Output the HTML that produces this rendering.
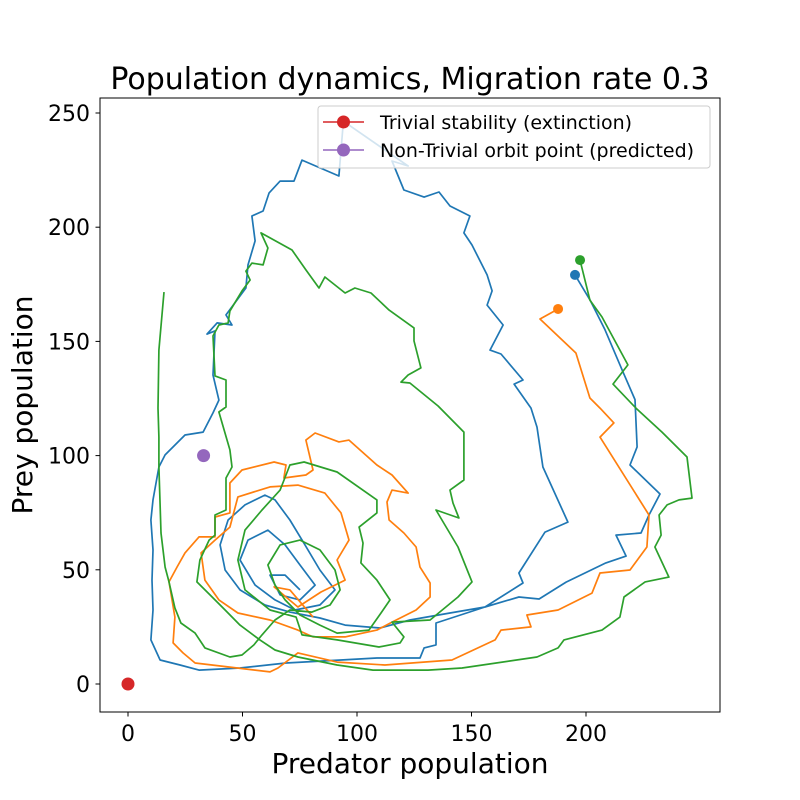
<!DOCTYPE html>
<html><head><meta charset="utf-8"><style>
html,body{margin:0;padding:0;background:#fff;}
svg{display:block;font-family:"DejaVu Sans","Liberation Sans",sans-serif;}
</style></head><body>
<svg id="chart" width="800" height="800" viewBox="0 0 800 800" xmlns="http://www.w3.org/2000/svg">
<rect width="800" height="800" fill="#fff"/>
<text x="410" y="89" font-size="30" text-anchor="middle" fill="#000">Population dynamics, Migration rate 0.3</text>
<g id="plot"></g>
<rect x="100" y="98" width="620" height="614" fill="none" stroke="#000" stroke-width="1"/>
<g id="xticks"></g>
<g id="yticks"></g>
<text x="410" y="773" font-size="28" text-anchor="middle">Predator population</text>
<text transform="translate(32,405) rotate(-90)" font-size="28" text-anchor="middle">Prey population</text>
<g>
<rect x="318" y="106" width="392" height="62" rx="3" fill="#fff" fill-opacity="0.8" stroke="#ccc"/>
<g>
<line x1="323" y1="122" x2="364" y2="122" stroke="#d62728" stroke-width="1.5"/>
<circle cx="343.5" cy="122" r="6.5" fill="#d62728"/>
<text x="380" y="129" font-size="19">Trivial stability (extinction)</text>
</g>
<g>
<line x1="323" y1="150" x2="364" y2="150" stroke="#9467bd" stroke-width="1.5"/>
<circle cx="343.5" cy="150" r="6.5" fill="#9467bd"/>
<text x="380" y="157" font-size="19">Non-Trivial orbit point (predicted)</text>
</g>
</g>
</svg>
<script>
const xTicks = [0, 50, 100, 150, 200];
const yTicks = [0, 50, 100, 150, 200, 250];
const trivialPoint = [0, 0];
const orbitPoint = [33, 100];
const blueX = [195.2,201.7,208.3,215.7,221.4,222.3,219.2,232.3,227.5,224.0,213.1,217.5,208.7,191.3,179.5,170.7,155.9,134.5,134.5,129.3,127.5,108.7,93.0,69.0,48.9,31.0,22.7,14.0,10.0,10.9,10.5,10.9,10.0,10.9,13.5,16.2,24.9,32.8,37.1,39.7,37.1,38.0,34.5,38.9,45.4,42.8,51.5,52.4,55.5,54.1,59.0,61.6,66.4,72.5,76.0,92.1,93.9,96.5,122.3,115.3,120.5,129.3,135.8,140.6,149.3,146.7,150.2,156.8,159.0,156.8,163.8,158.1,162.9,172.5,168.6,176.0,178.6,181.2,192.1,182.1,170.7,172.5,155.9,140.6,123.1,110.0,94.8,83.8,70.7,59.8,48.9,42.4,40.2,43.7,51.1,59.8,64.2,70.7,77.3,83.8,90.4,83.8,72.9,64.2,55.5,48.9,52.4,61.1,68.6,75.1,81.7,75.1,66.4,62.0,68.6,75.1];
const blueY = [179.1,168.2,155.1,137.6,124.5,103.8,95.9,83.2,74.0,66.1,65.2,56.0,53.0,44.6,37.2,38.1,33.7,26.7,17.1,15.8,11.4,11.4,10.5,9.2,7.0,6.1,8.3,10.5,19.3,32.4,45.5,58.7,71.8,80.6,95.0,100.3,109.0,110.3,118.7,124.3,135.3,154.6,153.2,158.1,157.2,161.6,173.4,183.5,194.0,204.9,207.1,215.0,220.2,220.2,229.4,222.4,244.3,244.7,226.8,229.0,216.3,213.2,215.4,209.3,204.9,197.5,192.2,179.1,172.1,165.9,157.2,146.2,144.5,133.1,131.3,120.8,112.5,95.0,70.9,66.5,48.6,44.2,33.7,31.1,28.0,24.5,25.8,28.9,31.5,34.6,41.2,49.9,60.9,71.8,78.4,82.7,80.6,71.8,60.9,49.9,41.2,34.6,32.4,36.8,43.3,54.3,63.0,67.4,60.9,52.1,43.3,36.8,39.0,47.7,47.7,41.2];
const orangeX = [187.8,179.9,195.6,201.7,206.1,212.2,206.1,227.5,226.6,219.2,206.1,202.6,187.8,174.2,176.0,162.9,160.3,141.5,112.2,91.3,74.2,65.5,62.0,44.5,29.3,24.0,19.7,20.5,17.9,21.4,24.9,31.0,38.0,38.0,44.5,44.5,49.8,63.8,69.0,68.1,77.7,80.8,77.7,81.7,92.1,96.5,108.7,115.3,122.3,115.3,113.1,114.0,120.5,125.8,127.5,131.9,131.9,125.8,115.3,108.7,94.8,80.8,74.2,62.0,48.0,39.7,33.6,31.9,38.0,44.5,48.0,62.0,74.2,86.0,93.0,96.5,91.3,94.8,84.3,74.2,69.0,63.8,70.7,80.8];
const orangeY = [164.2,159.8,144.9,125.2,120.8,114.3,108.1,74.0,60.0,49.9,48.6,39.8,32.4,30.2,25.0,23.6,19.3,10.5,8.3,9.6,13.6,7.0,5.3,7.4,9.2,13.6,18.0,29.3,44.7,51.2,57.4,64.4,64.4,73.1,74.9,88.0,93.7,97.2,95.9,90.2,91.5,93.7,106.8,109.9,106.0,106.8,95.9,91.5,83.6,84.9,79.7,71.8,66.1,60.0,51.2,44.2,38.1,32.4,27.1,23.6,20.6,20.6,23.6,28.0,31.1,36.8,45.5,57.4,63.0,68.7,81.9,86.3,87.1,83.6,74.9,63.0,54.3,45.5,40.3,33.7,38.1,42.5,41.2,29.3];
const greenX = [197.4,201.7,207.0,218.3,211.8,221.8,233.2,244.1,246.3,240.6,235.4,231.9,232.8,230.1,236.2,225.8,216.6,214.8,207.0,190.4,187.8,178.6,145.9,131.0,107.0,91.3,74.2,64.2,57.6,48.9,42.4,35.8,30.1,31.4,35.4,38.0,38.0,42.8,42.8,45.4,44.5,39.7,42.8,42.8,38.0,37.1,39.7,43.7,44.5,49.8,53.3,51.5,54.1,59.0,61.1,58.1,71.6,77.7,83.4,86.0,94.8,99.1,106.1,114.0,124.9,124.9,127.9,122.3,119.2,123.1,135.4,146.7,146.7,140.6,141.9,144.5,134.5,144.1,150.2,144.1,131.9,115.3,120.5,118.8,109.6,91.3,76.0,73.4,62.0,51.1,48.0,51.1,58.5,66.4,70.7,76.9,91.3,108.7,108.7,100.9,102.6,101.7,108.7,114.4,110.5,105.2,91.3,83.8,75.1,68.6,64.2,61.1,66.4,75.1,83.8,90.4,92.6,88.2,80.3,70.7,64.2,58.5,55.0,49.8,44.5,33.6,29.3,23.1,20.5,17.9,16.2,14.4,13.5,13.5,13.1,13.5,15.7];
const greenY = [185.6,168.1,160.7,139.7,131.3,120.8,110.3,99.4,81.4,80.6,78.4,74.0,65.2,60.0,46.8,44.7,38.1,29.3,23.6,19.3,15.8,11.8,7.0,6.1,6.1,8.3,11.8,14.9,19.3,25.8,32.4,39.0,44.7,54.3,63.0,65.2,74.0,76.2,90.2,95.0,102.5,119.1,121.3,133.1,134.9,152.4,157.2,158.1,163.3,172.1,176.9,180.8,184.3,183.5,190.9,197.5,190.0,181.3,173.4,178.2,171.2,173.4,171.2,163.7,155.9,150.2,138.4,135.3,132.2,131.8,121.7,110.3,89.3,84.9,79.2,72.7,76.2,60.0,44.7,38.1,28.0,27.1,20.6,18.0,16.2,19.3,21.5,29.3,32.4,41.2,54.3,67.4,76.2,84.9,95.9,97.2,92.8,80.6,74.9,68.7,61.7,53.0,45.5,36.8,31.1,23.6,22.3,25.8,30.2,36.8,43.3,52.1,60.9,63.0,58.7,49.9,41.2,34.6,31.5,32.4,28.0,21.5,17.1,12.7,11.8,15.8,22.3,26.7,33.3,44.7,51.2,66.1,95.0,108.1,120.8,146.2,171.6];

const NS = 'http://www.w3.org/2000/svg';
function X(v){ return 128 + v * 2.29; }
function Y(v){ return 684 - v * 2.284; }
function mk(tag, attrs, parent){
  const e = document.createElementNS(NS, tag);
  for (const k in attrs) e.setAttribute(k, attrs[k]);
  parent.appendChild(e);
  return e;
}
const plot = document.getElementById('plot');
const series = [
  {name:'blue', xs:blueX, ys:blueY, color:'#1f77b4'},
  {name:'orange', xs:orangeX, ys:orangeY, color:'#ff7f0e'},
  {name:'green', xs:greenX, ys:greenY, color:'#2ca02c'}
];
series.forEach(s => {
  const pts = s.xs.map((x, i) => X(x).toFixed(1) + ',' + Y(s.ys[i]).toFixed(1)).join(' ');
  const pl = mk('polyline', {points: pts, fill:'none', stroke:s.color, 'stroke-width':1.7, 'stroke-linejoin':'round'}, plot);
  
  
});
series.forEach(s => {
  const c = mk('circle', {cx: X(s.xs[0]), cy: Y(s.ys[0]), r: 5, fill: s.color}, plot);
  
  
});
const tr = mk('circle', {cx: X(trivialPoint[0]), cy: Y(trivialPoint[1]), r: 6.5, fill:'#d62728'}, plot);


const op = mk('circle', {cx: X(orbitPoint[0]), cy: Y(orbitPoint[1]), r: 6.5, fill:'#9467bd'}, plot);



const xg = document.getElementById('xticks');
xTicks.forEach(t => {
  const l = mk('line', {x1:X(t), x2:X(t), y1:712, y2:716.5, stroke:'#000', 'stroke-width':1}, xg);
  
  
  const tx = mk('text', {x:X(t), y:741, 'font-size':22, 'text-anchor':'middle'}, xg);
  tx.textContent = t;
  
  
});
const yg = document.getElementById('yticks');
yTicks.forEach(t => {
  const l = mk('line', {x1:95.5, x2:100, y1:Y(t), y2:Y(t), stroke:'#000', 'stroke-width':1}, yg);
  
  
  const tx = mk('text', {x:90, y:Y(t) + 8, 'font-size':22, 'text-anchor':'end'}, yg);
  tx.textContent = t;
  
  
});
</script>
</body></html>
